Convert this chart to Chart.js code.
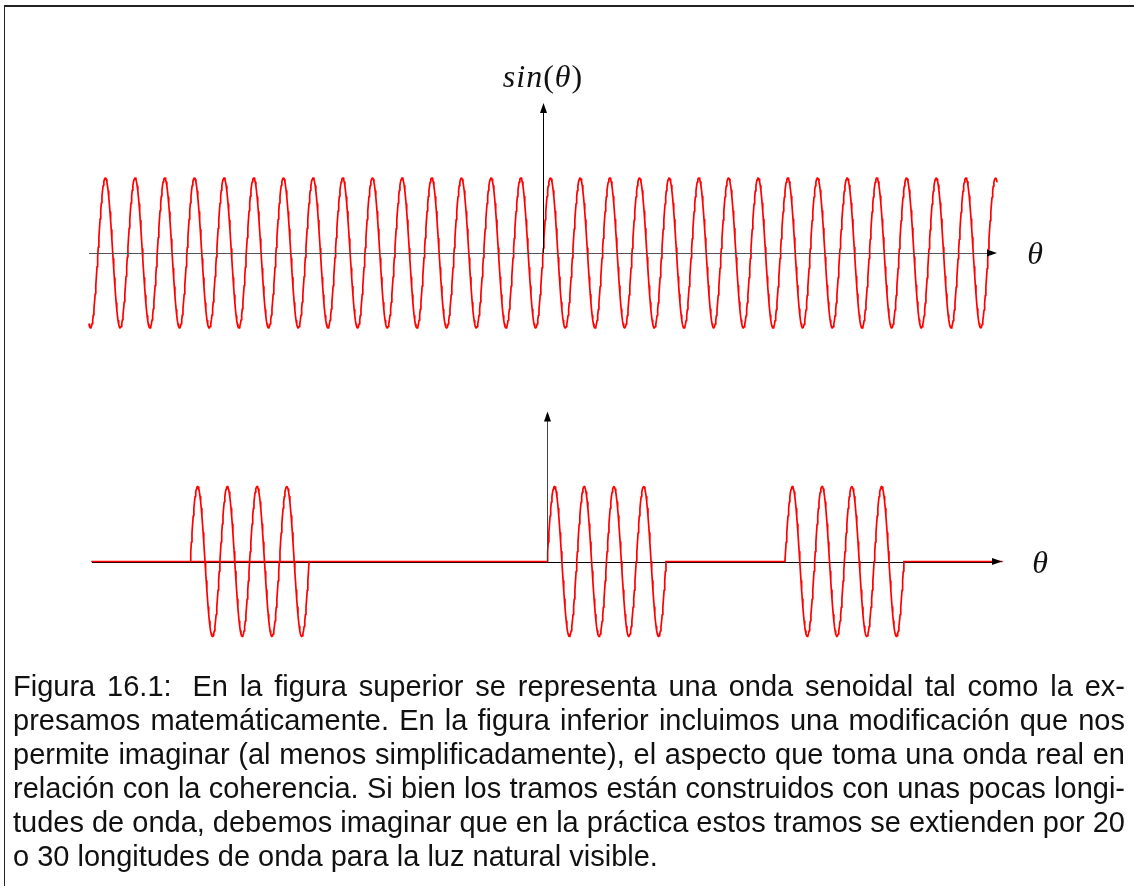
<!DOCTYPE html>
<html>
<head>
<meta charset="utf-8">
<script src="https://cdn.jsdelivr.net/npm/chart.js@4"></script>
<style>
  body { margin: 0; width: 1134px; height: 886px; overflow: hidden; position: relative; background: #fff; }
  .frame { position: absolute; left: 4px; top: 5px; width: 1200px; height: 1000px; border-top: 2px solid #222; border-left: 1.5px solid #222; }
  canvas { position: absolute; left: 0; }
  #senoCompleto { top: 0; }
  #senoTramos { top: 380px; }
  .caption { position: absolute; left: 13px; top: 669px; width: 1112px; font-family: 'Liberation Sans', Arial, sans-serif; font-size: 29px; line-height: 34px; color: #111; }
  .caption div { white-space: nowrap; }
  .caption .lbl { margin-right: 9px; }
</style>
</head>
<body>
<div class="frame"></div>
<canvas id="senoCompleto" width="1134" height="370"></canvas>
<canvas id="senoTramos" width="1134" height="290"></canvas>
<div class="caption">
  <div class="j"><span><span class="lbl">Figura 16.1:</span> En la figura superior se representa una onda senoidal tal como la ex-</span></div>
  <div class="j"><span>presamos matemáticamente. En la figura inferior incluimos una modificación que nos</span></div>
  <div class="j"><span>permite imaginar (al menos simplificadamente), el aspecto que toma una onda real en</span></div>
  <div class="j"><span>relación con la coherencia. Si bien los tramos están construidos con unas pocas longi-</span></div>
  <div class="j"><span>tudes de onda, debemos imaginar que en la práctica estos tramos se extienden por 20</span></div>
  <div><span>o 30 longitudes de onda para la luz natural visible.</span></div>
</div>
<script>
// eje theta en ciclos (theta / 2pi)
const thetaRange = [-15.3, 15.3];
const amplitude = 1;

// figura inferior: tramos de onda (inicio, fin) y tramos planos, en ciclos
const trainStarts = [-12, 0, 8];
const trainEnds = [-8, 4, 12];
const flatStarts = [-15.3, 4, 12];
const flatEnds = [0, 8, 15.3];

const samplesPerCycle = 48;
const red = '#ff0000';

function sineSegment(from, to) {
  const pts = [];
  const n = Math.round((to - from) * samplesPerCycle);
  for (let i = 0; i <= n; i++) {
    const c = from + (to - from) * i / n;
    pts.push({ x: c, y: amplitude * Math.sin(2 * Math.PI * c) });
  }
  return pts;
}

function arrowHead(ctx, x, y, dir, color) {
  ctx.save();
  ctx.fillStyle = color;
  ctx.beginPath();
  if (dir === 'right') {
    ctx.moveTo(x, y);
    ctx.lineTo(x - 10, y - 3.5);
    ctx.lineTo(x - 10, y + 3.5);
  } else {
    ctx.moveTo(x, y);
    ctx.lineTo(x - 3.5, y + 10);
    ctx.lineTo(x + 3.5, y + 10);
  }
  ctx.closePath();
  ctx.fill();
  ctx.restore();
}

// ejes con flecha y etiquetas dibujados sobre las escalas del grafico
const axesPlugin = {
  id: 'axes',
  beforeDatasetsDraw(chart, args, opts) {
    if (opts.under) drawHorizontal(chart, opts);
  },
  afterDatasetsDraw(chart, args, opts) {
    if (!opts.under) drawHorizontal(chart, opts);
    const { ctx, scales: { x, y } } = chart;
    const x0 = Math.round(x.getPixelForValue(0)) + 0.5;
    const yTip = y.getPixelForValue(opts.yTop);
    ctx.save();
    ctx.strokeStyle = opts.vColor;
    ctx.lineWidth = 1;
    ctx.beginPath();
    ctx.moveTo(x0, y.getPixelForValue(0));
    ctx.lineTo(x0, yTip + 6);
    ctx.stroke();
    ctx.restore();
    arrowHead(ctx, x0, yTip, 'up', '#000');
    arrowHead(ctx, x.getPixelForValue(thetaRange[1]), y.getPixelForValue(0), 'right', '#000');

    ctx.save();
    ctx.fillStyle = '#111';
    ctx.textBaseline = 'alphabetic';
    ctx.textAlign = 'center';
    ctx.font = 'italic 32px "Liberation Serif", serif';
    ctx.fillText('θ', x.getPixelForValue(thetaRange[1]) + 38, y.getPixelForValue(0) + 11);

    if (opts.yLabel) {
      const parts = [['sin', 'italic'], ['(', 'normal'], ['θ', 'italic'], [')', 'normal']];
      ctx.textAlign = 'left';
      ctx.letterSpacing = '1px';
      let total = 0;
      parts.forEach(p => {
        ctx.font = p[1] + ' 32px "Liberation Serif", serif';
        p.push(ctx.measureText(p[0]).width);
        total += p[2];
      });
      let cx = x.getPixelForValue(0) - total / 2;
      const by = y.getPixelForValue(opts.yLabelAt);
      parts.forEach(p => {
        ctx.font = p[1] + ' 32px "Liberation Serif", serif';
        ctx.fillText(p[0], cx, by);
        cx += p[2];
      });
    }
    ctx.restore();
  }
};

function drawHorizontal(chart, opts) {
  const { ctx, scales: { x, y } } = chart;
  const y0 = Math.round(y.getPixelForValue(0)) + 0.5;
  ctx.save();
  ctx.strokeStyle = opts.hColor;
  ctx.lineWidth = 1;
  ctx.beginPath();
  ctx.moveTo(x.getPixelForValue(thetaRange[0]), y0);
  ctx.lineTo(x.getPixelForValue(thetaRange[1]) - 6, y0);
  ctx.stroke();
  ctx.restore();
}

function baseOptions(yMin, yMax, padding, axesOpts) {
  return {
    responsive: false,
    animation: false,
    events: [],
    layout: { padding },
    elements: {
      point: { radius: 0 },
      line: { borderColor: red, borderWidth: 1.7, tension: 0, borderCapStyle: 'round', borderJoinStyle: 'round' }
    },
    scales: {
      x: { type: 'linear', min: thetaRange[0], max: thetaRange[1], display: false },
      y: { type: 'linear', min: yMin, max: yMax, display: false }
    },
    plugins: {
      legend: { display: false },
      tooltip: { enabled: false },
      axes: axesOpts
    }
  };
}

// onda senoidal completa
new Chart(document.getElementById('senoCompleto'), {
  type: 'line',
  data: {
    datasets: [{ data: sineSegment(thetaRange[0], thetaRange[1]), clip: false }]
  },
  options: baseOptions(-1.4, 2.6, { left: 89, right: 137, top: 58, bottom: 12 },
    { under: false, hColor: '#555', vColor: '#000', yTop: 2, yLabel: true, yLabelAt: 2.21 }),
  plugins: [axesPlugin]
});

// tramos de onda separados por tramos planos
const tramoDatasets = [];
flatStarts.forEach((s, i) => {
  tramoDatasets.push({ data: [{ x: s, y: 0 }, { x: flatEnds[i], y: 0 }], clip: false });
});
trainStarts.forEach((s, i) => {
  tramoDatasets.push({ data: sineSegment(s, trainEnds[i]), clip: false });
});

new Chart(document.getElementById('senoTramos'), {
  type: 'line',
  data: { datasets: tramoDatasets },
  options: baseOptions(-1.3, 2.3, { left: 92, right: 132, top: 9, bottom: 11 },
    { under: true, hColor: '#000', vColor: '#444', yTop: 2, yLabel: false }),
  plugins: [axesPlugin]
});

// justificado del pie de figura
const captionWidth = 1112;
document.querySelectorAll('.caption .j').forEach(line => {
  const span = line.firstElementChild;
  const gaps = (span.textContent.match(/ /g) || []).length;
  const extra = (captionWidth - span.getBoundingClientRect().width) / gaps;
  span.style.wordSpacing = extra + 'px';
});
</script>
</body>
</html>
